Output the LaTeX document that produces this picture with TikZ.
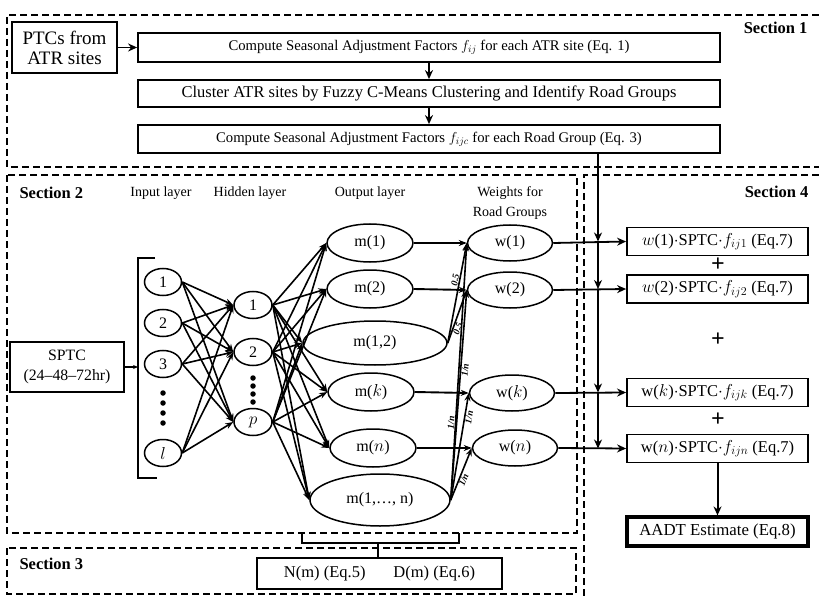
\documentclass[tikz,border=0pt]{standalone}
\usepackage{fontspec}
\setmainfont{Liberation Serif}
\usetikzlibrary{arrows.meta,shapes.geometric}
\begin{document}
\begin{tikzpicture}[x=1pt,y=-1pt,
  sect/.style={line width=1.9pt, dash pattern=on 7pt off 4pt},
  procbox/.style={draw, line width=1.8pt, minimum height=28pt, inner sep=0pt, font=\fontsize{14.7}{16}\selectfont},
  neuron/.style={draw, ellipse, line width=1.5pt, inner sep=0pt, font=\fontsize{16}{16}\selectfont},
  arr/.style={-{Stealth[length=9pt,width=8pt]}, line width=1.8pt},
  net/.style={-{Stealth[length=8pt,width=6pt]}, line width=1.6pt},
  lbl/.style={font=\fontsize{14}{20}\selectfont, align=center},
  sectlbl/.style={font=\fontsize{16.5}{16}\selectfont\bfseries},
  wlbl/.style={font=\fontsize{9.5}{9}\selectfont\bfseries\itshape, inner sep=0.5pt},
  plus/.style={font=\fontsize{24}{24}\selectfont\bfseries},
  dotm/.style={fill=black, circle, inner sep=0pt, minimum size=5.5pt},
]
\useasboundingbox (0,0) rectangle (819,596);

% ---------- section frames ----------
\draw[sect] (830,15) -- (7,15) -- (7,167) -- (830,167);
\draw[sect] (7,175) rectangle (577,533);
\draw[sect] (7,548) rectangle (576,594);
\draw[sect] (830,175) -- (584,175) -- (584,600);

\node[sectlbl, anchor=east] (s1lbl) at (811,28) {Section 1};
\node[sectlbl, anchor=west] (s2lbl) at (16,193) {Section 2};
\node[sectlbl, anchor=east] (s4lbl) at (812,192) {Section 4};
\node[sectlbl, anchor=west] (s3lbl) at (16,564) {Section 3};

% ---------- section 1 ----------
\node[procbox, minimum width=105pt, minimum height=51pt, align=center, font=\fontsize{19}{20}\selectfont] (ptc) at (64.5,47.5) {PTCs from\\ATR sites};
\node[procbox, minimum width=582pt, minimum height=29pt] (b1) at (429,47.5) {Compute Seasonal Adjustment Factors $f_{ij}$ for each ATR site (Eq. 1)};
\node[procbox, minimum width=582pt, minimum height=27pt, font=\fontsize{16.5}{17}\selectfont] (b2) at (429,93.5) {Cluster ATR sites by Fuzzy C-Means Clustering and Identify Road Groups};
\node[procbox, minimum width=582pt, minimum height=28pt] (b3) at (429,139) {Compute Seasonal Adjustment Factors $f_{ijc}$ for each Road Group (Eq. 3)};
\draw[arr] (ptc.east) -- (b1.west);
\draw[arr] (b1.south) -- (b2.north);
\draw[arr] (b2.south) -- (b3.north);

% ---------- section 2 ----------
\node[lbl] (inlbl) at (161,193) {Input layer};
\node[lbl] (hidlbl) at (250,193) {Hidden layer};
\node[lbl] (outlbl) at (370,193) {Output layer};
\node[lbl] (wlblt) at (510,203) {Weights for\\Road Groups};

\node[procbox, minimum width=114pt, minimum height=50pt, align=center, font=\fontsize{15.8}{20}\selectfont] (sptc) at (67,367) {SPTC\\(24--48--72hr)};
\coordinate (brtop) at (138,258);
\coordinate (brbot) at (138,478);
\coordinate (brmid) at (138,367);
\draw[line width=1.5pt] (155,258) -- (brtop) -- (brbot) -- (157,478);
\draw[-{Stealth[length=5pt,width=4pt]}, line width=1.8pt] (sptc.east) -- (brmid);

\tikzset{inn/.style={neuron, minimum width=37pt, minimum height=27pt}}
\node[inn] (i1) at (163,282) {1};
\node[inn] (i2) at (163,323) {2};
\node[inn] (i3) at (163,364) {3};
\node[inn] (il) at (163,453) {$l$};
\foreach \y [count=\k] in {393,403,413,423} \node[dotm] (id\k) at (163,\y) {};

\node[inn, minimum width=38pt] (h1) at (253,305) {1};
\node[inn, minimum width=38pt] (h2) at (253,352) {2};
\node[inn, minimum width=38pt] (hp) at (253,422) {$p$};
\foreach \y [count=\k] in {378,386,394,402} \node[dotm] (hd\k) at (253,\y) {};

\tikzset{onode/.style={neuron, minimum width=86pt, minimum height=38pt}}
\node[onode] (m1) at (370,243) {m(1)};
\node[onode] (m2) at (370,289) {m(2)};
\node[onode, minimum width=144pt, minimum height=44pt] (m12) at (375,343) {m(1,2)};
\node[onode] (mk) at (371,392) {m($k$)};
\node[onode] (mn) at (373,448) {m($n$)};
\node[onode, minimum width=140pt, minimum height=52pt] (mall) at (380,500) {m(1,\dots, n)};

\tikzset{wnode/.style={neuron, minimum width=85pt, minimum height=36pt}}
\node[wnode] (w1) at (510,243) {w(1)};
\node[wnode] (w2) at (510,290) {w(2)};
\node[wnode] (wk) at (512,393) {w($k$)};
\node[wnode] (wn) at (515,448) {w($n$)};

\foreach \a in {i1,i2,i3,il}
  \foreach \b in {h1,h2,hp}
    \draw[net] (\a.east) -- (\b.west);
\foreach \a in {h1,h2,hp}
  \foreach \b in {m1,m2,m12,mk,mn,mall}
    \draw[net] (\a.east) -- (\b.west);

\draw[net, line width=1.9pt] (m1.east) -- (w1.west);
\draw[net, line width=1.9pt] (m2.east) -- (w2.west);
\draw[net, line width=1.9pt] (mk.east) -- (wk.west);
\draw[net, line width=1.9pt] (mn.east) -- (wn.west);
\draw[net] (m12.east) -- node[wlbl, pos=0.62, sloped, above] {0.5} (w1.west);
\draw[net] (m12.east) -- node[wlbl, pos=0.3, sloped, below] {0.5} (w2.west);
\draw[net] (mall.east) -- node[wlbl, pos=0.3, sloped, above] {1/n} (w1.west);
\draw[net] (mall.east) -- node[wlbl, pos=0.62, sloped, below] {1/n} (w2.west);
\draw[net] (mall.east) -- node[wlbl, pos=0.78, sloped, below] {1/n} (wk.west);
\draw[net] (mall.east) -- node[wlbl, pos=0.42, sloped, below] {1/n} (wn.west);

% ---------- section 3 ----------
\coordinate (brL) at (302,533);
\coordinate (brR) at (459,533);
\coordinate (brC) at (378,543);
\draw[line width=2pt] (brL) -- (302,543) -- (459,543) -- (brR);
\node[procbox, minimum width=245pt, minimum height=31pt, font=\fontsize{16.5}{17}\selectfont] (nm) at (379.5,573.5) {N(m) (Eq.5)\hspace{28pt}D(m) (Eq.6)};
\draw[line width=2pt] (brC) -- (brC |- nm.north);

% ---------- section 4 ----------
\tikzset{rbox/.style={procbox, minimum width=181pt, minimum height=28pt, font=\fontsize{16.5}{17}\selectfont}}
\node[rbox] (r1) at (717.5,241.5) {$w$(1)$\cdot$SPTC$\cdot f_{ij1}$ (Eq.7)};
\node[rbox] (r2) at (717.5,289) {$w$(2)$\cdot$SPTC$\cdot f_{ij2}$ (Eq.7)};
\node[rbox] (rk) at (717.5,392.5) {w($k$)$\cdot$SPTC$\cdot f_{ijk}$ (Eq.7)};
\node[rbox] (rn) at (717.5,448.5) {w($n$)$\cdot$SPTC$\cdot f_{ijn}$ (Eq.7)};
\node[plus] (p1) at (718,265) {+};
\node[plus] (p2) at (718,340) {+};
\node[plus] (p3) at (718,420) {+};
\node[procbox, line width=3.2pt, minimum width=181pt, minimum height=29pt, font=\fontsize{16.8}{17}\selectfont] (aadt) at (717.5,531.5) {AADT Estimate (Eq.8)};
\draw[arr, line width=2pt] (rn.south) -- (aadt.north);

\coordinate (j0) at (598,153);
\coordinate (j1) at (598,241.5);
\coordinate (j2) at (598,289);
\coordinate (j3) at (598,392.5);
\coordinate (j4) at (598,448.5);
\draw[line width=1.8pt] (b3.south -| j0) -- (j0);
\draw[arr] (j0) -- (j1);
\draw[arr] (j1) -- (j2);
\draw[arr] (j2) -- (j3);
\draw[arr] (j3) -- (j4);

\draw[arr] (w1.east) -- (r1.west);
\draw[arr] (w2.east) -- (r2.west);
\draw[arr] (wk.east) -- (rk.west);
\draw[arr] (wn.east) -- (rn.west);
\end{tikzpicture}
\end{document}
